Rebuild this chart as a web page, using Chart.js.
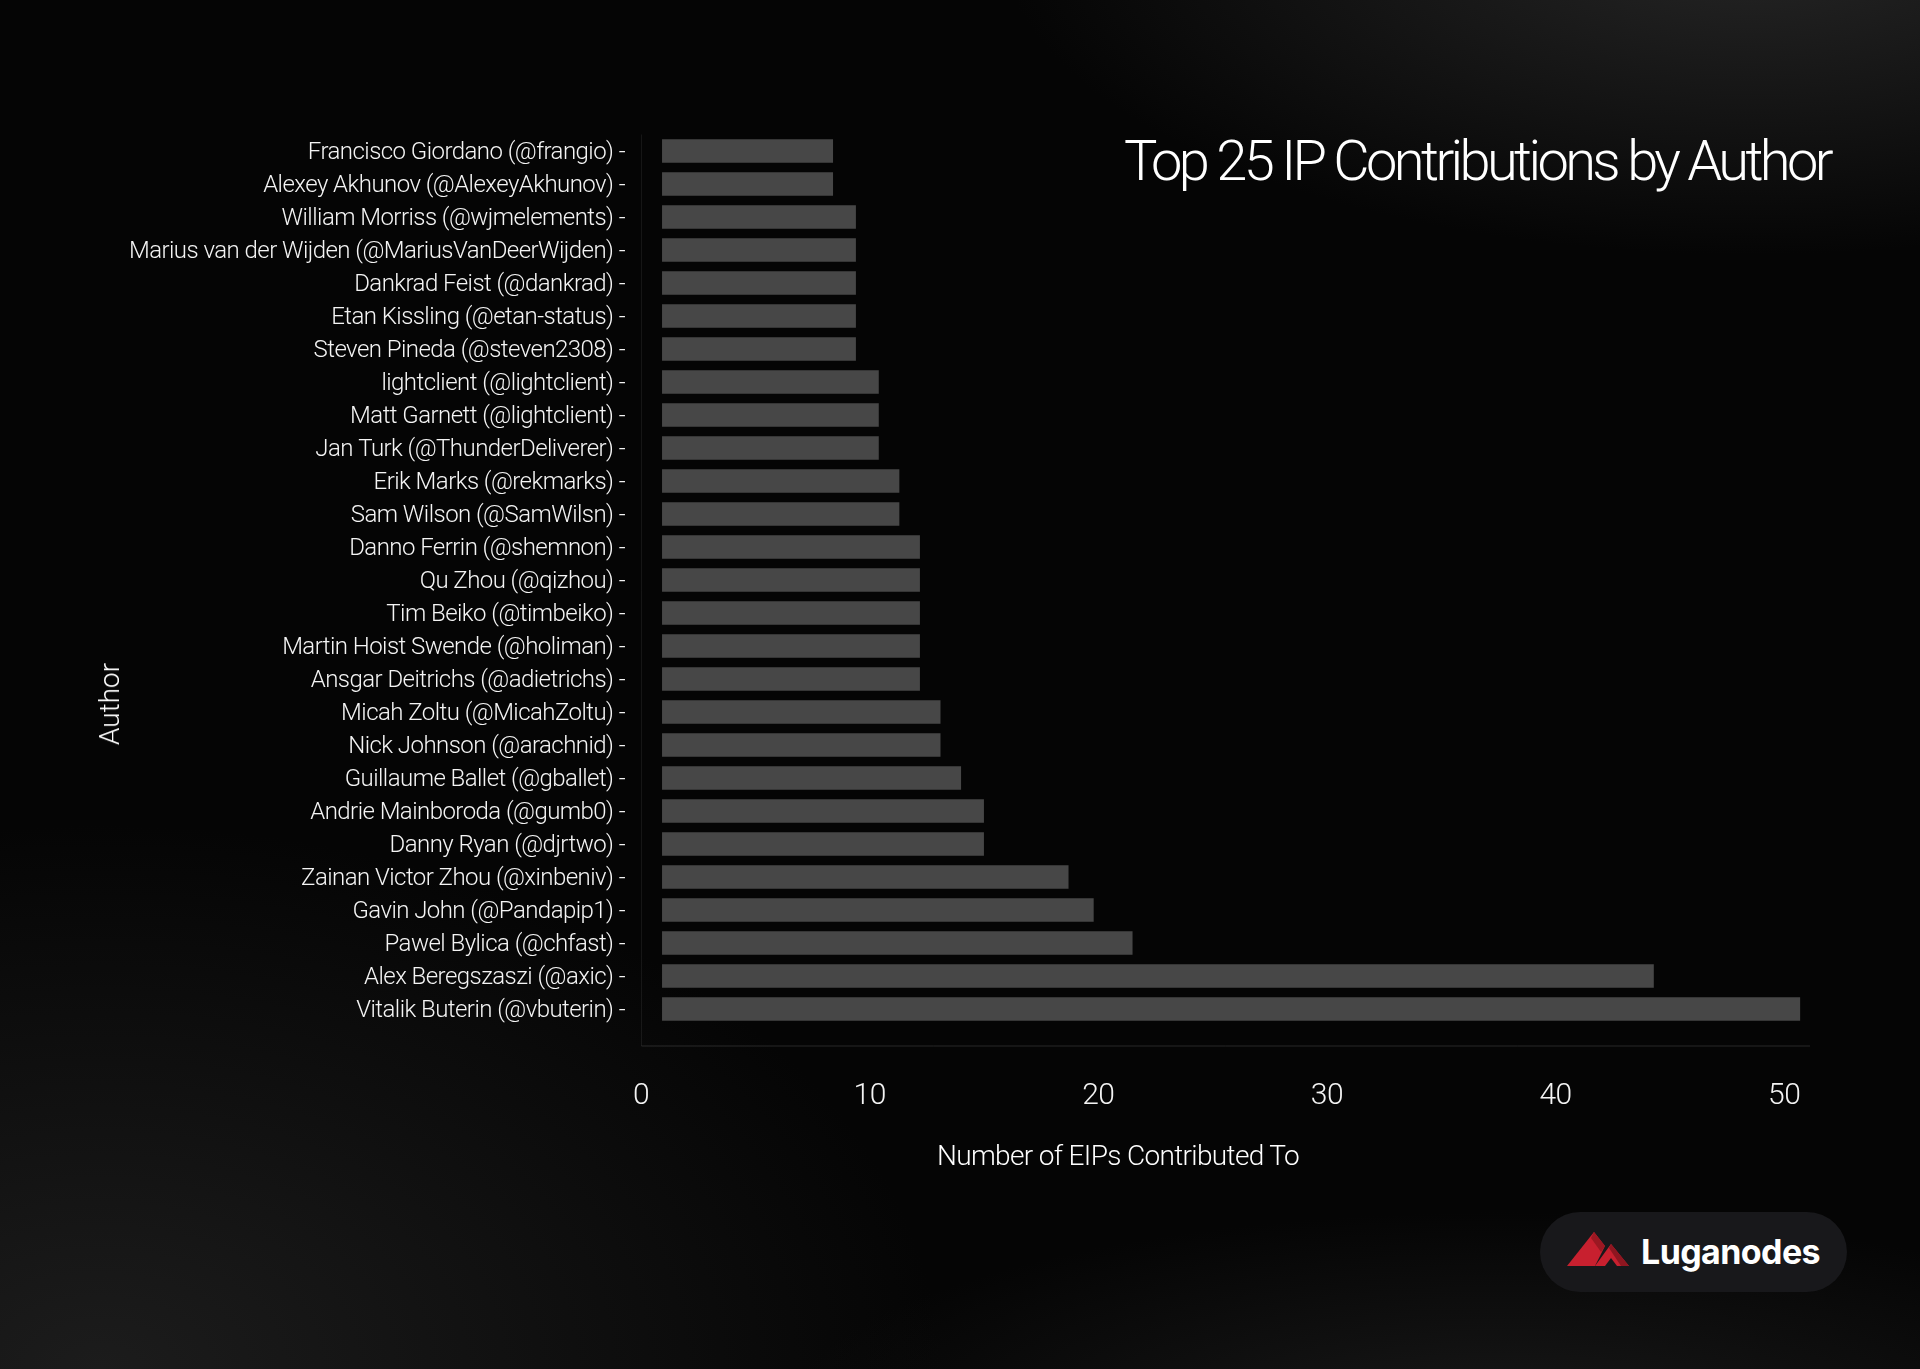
<!DOCTYPE html>
<html>
<head>
<meta charset="utf-8">
<script src="https://cdn.jsdelivr.net/npm/chart.js@4"></script>
<style>
  html, body { margin: 0; padding: 0; }
  body { width: 1920px; height: 1369px; overflow: hidden; }
  #wrap {
    position: relative; width: 1920px; height: 1369px;
    background:
      radial-gradient(ellipse 1000px 420px at 1750px -60px, rgba(38,38,38,1), rgba(38,38,38,0) 75%),
      radial-gradient(ellipse 1050px 680px at 100px 1369px, rgba(28,28,28,1), rgba(28,28,28,0) 80%),
      radial-gradient(ellipse 900px 260px at 1500px 1420px, rgba(24,24,24,1), rgba(24,24,24,0) 80%),
      #050505;
    font-family: Roboto, sans-serif;
    color: #fff;
  }
  canvas { position: absolute; left: 0; top: 0; }
  .txt { position: absolute; white-space: nowrap; font-weight: 300; }
  #title { font-size: 56px; line-height: 56px; top: 133px; right: 90px; }
  #xtitle { font-size: 28px; line-height: 28px; top: 1142px; left: 937px; }
  #ytitle { font-size: 28px; line-height: 28px; left: 110px; top: 704px; transform: translate(-50%, -50%) rotate(-90deg); }
  #logo {
    position: absolute; left: 1540px; top: 1212px; width: 307px; height: 80px;
    border-radius: 40px; background: #18181b;
  }
  #logo svg { position: absolute; left: 27px; top: 18px; }
  #logo span {
    position: absolute; left: 101px; top: 20px; font-family: Inter, sans-serif;
    font-weight: 700; font-size: 34px; line-height: 40px; color: #fff;
  }
</style>
</head>
<body>
<div id="wrap">
  <canvas id="chart" width="1920" height="1369"></canvas>
  <div id="title" class="txt">Top 25 IP Contributions by Author</div>
  <div id="xtitle" class="txt">Number of EIPs Contributed To</div>
  <div id="ytitle" class="txt">Author</div>
  <div id="logo">
    <svg width="66" height="40" viewBox="0 0 66 40">
      <polygon points="0,36 27,2 38,16 28,36" fill="#c8202f"/>
      <polygon points="27,2 38,16 34,22 24,8" fill="#9b1822"/>
      <polygon points="28,36 44,14 62,36 50,36 44,28 38,36" fill="#c8202f"/>
      <polygon points="44,14 62,36 54,36 42,18" fill="#8e1620"/>
    </svg>
    <span id="logotext">Luganodes</span>
  </div>
</div>
<script>
var authors = [
  'Francisco Giordano (@frangio)', 'Alexey Akhunov (@AlexeyAkhunov)', 'William Morriss (@wjmelements)',
  'Marius van der Wijden (@MariusVanDeerWijden)', 'Dankrad Feist (@dankrad)', 'Etan Kissling (@etan-status)',
  'Steven Pineda (@steven2308)', 'lightclient (@lightclient)', 'Matt Garnett (@lightclient)',
  'Jan Turk (@ThunderDeliverer)', 'Erik Marks (@rekmarks)', 'Sam Wilson (@SamWilsn)',
  'Danno Ferrin (@shemnon)', 'Qu Zhou (@qizhou)', 'Tim Beiko (@timbeiko)',
  'Martin Hoist Swende (@holiman)', 'Ansgar Deitrichs (@adietrichs)', 'Micah Zoltu (@MicahZoltu)',
  'Nick Johnson (@arachnid)', 'Guillaume Ballet (@gballet)', 'Andrie Mainboroda (@gumb0)',
  'Danny Ryan (@djrtwo)', 'Zainan Victor Zhou (@xinbeniv)', 'Gavin John (@Pandapip1)',
  'Pawel Bylica (@chfast)', 'Alex Beregszaszi (@axic)', 'Vitalik Buterin (@vbuterin)'
];
var eipCounts = [
  8.4, 8.4, 9.4, 9.4, 9.4, 9.4, 9.4, 10.4, 10.4, 10.4, 11.3, 11.3, 12.2, 12.2, 12.2,
  12.2, 12.2, 13.1, 13.1, 14.0, 15.0, 15.0, 18.7, 19.8, 21.5, 44.3, 50.7
];
var xTicks = [0, 10, 20, 30, 40, 50];

// fit html text to the widths measured on the reference
function fitWidth(id, target) {
    var el = document.getElementById(id);
    var n = el.textContent.length;
    var w = el.getBoundingClientRect().width;
    el.style.letterSpacing = ((target - w) / n) + 'px';
}
fitWidth('title', 706);
fitWidth('xtitle', 362);
fitWidth('logotext', 179);

var spacing = {
    id: 'spacing',
    beforeLayout: function(chart) { chart.ctx.letterSpacing = '-0.55px'; },
    beforeDraw: function(chart) { chart.ctx.letterSpacing = '-0.55px'; }
};

var axisLines = {
    id: 'axisLines',
    beforeDatasetsDraw: function(chart) {
        var ctx = chart.ctx;
        var area = chart.chartArea;
        var x0 = Math.round(chart.scales.x.getPixelForValue(0)) + 0.5;
        var yb = area.bottom + 20.5;
        ctx.save();
        ctx.lineWidth = 1;
        ctx.strokeStyle = 'rgba(255,255,255,0.07)';
        ctx.beginPath();
        ctx.moveTo(x0, area.top);
        ctx.lineTo(x0, yb);
        ctx.stroke();
        ctx.strokeStyle = 'rgba(255,255,255,0.14)';
        ctx.beginPath();
        ctx.moveTo(x0, yb);
        ctx.lineTo(area.right + 3, yb);
        ctx.stroke();
        ctx.restore();
    }
};

new Chart(document.getElementById('chart'), {
    type: 'bar',
    data: {
        labels: authors,
        datasets: [{
            data: eipCounts,
            base: 0.92,
            backgroundColor: '#474747',
            borderWidth: 0,
            barPercentage: 0.71,
            categoryPercentage: 1
        }]
    },
    options: {
        indexAxis: 'y',
        responsive: false,
        animation: false,
        layout: { padding: { top: 134.5, right: 113, bottom: 0, left: 0 } },
        plugins: { legend: { display: false }, tooltip: { enabled: false } },
        scales: {
            x: {
                type: 'linear', min: 0, max: 51,
                grid: { display: false, drawTicks: false },
                border: { display: false },
                afterBuildTicks: function(scale) {
                    scale.ticks = xTicks.map(function(v) { return { value: v }; });
                },
                afterFit: function(scale) { scale.height = 1369 - 1025.5; },
                ticks: {
                    color: '#f4f4f4', padding: 53,
                    font: { family: 'Roboto', size: 30, weight: 300 }
                }
            },
            y: {
                grid: { display: false, drawTicks: false },
                border: { display: false },
                afterFit: function(scale) { scale.width = 641; },
                ticks: {
                    color: '#f4f4f4', padding: 16, autoSkip: false, labelOffset: 2,
                    font: { family: 'Roboto', size: 24, weight: 300 },
                    callback: function(v) { return this.getLabelForValue(v) + ' -'; }
                }
            }
        }
    },
    plugins: [spacing, axisLines]
});
</script>
</body>
</html>
